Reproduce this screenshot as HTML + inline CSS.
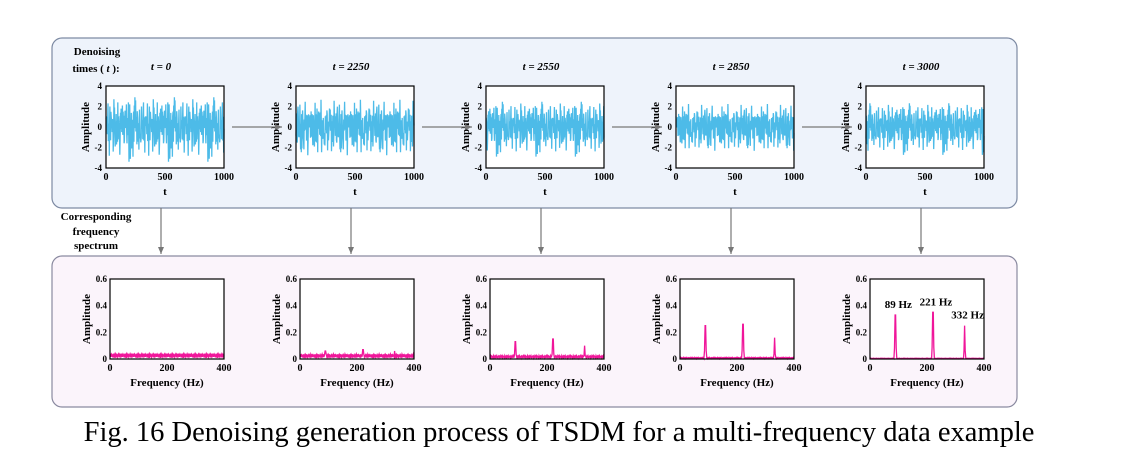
<!DOCTYPE html>
<html><head><meta charset="utf-8"><style>
html,body{margin:0;padding:0;background:#fff;width:1122px;height:469px;overflow:hidden}
svg{display:block;font-family:"Liberation Serif",serif}
</style></head><body>
<svg id="fig" width="1122" height="469" viewBox="0 0 1122 469" xmlns="http://www.w3.org/2000/svg">
<defs><marker id="ah" markerWidth="8" markerHeight="8" refX="7" refY="4" orient="auto" markerUnits="userSpaceOnUse"><path d="M0,1 L7,4 L0,7 z" fill="#777"/></marker></defs>
<rect x="52" y="38" width="965" height="170" rx="10" fill="#eef3fb" stroke="#7d8aa3" stroke-width="1.2"/>
<rect x="52" y="256" width="965" height="151" rx="10" fill="#fbf4fb" stroke="#8a8aa0" stroke-width="1.2"/>
<text x="97" y="55" font-size="11" font-weight="bold" text-anchor="middle">Denoising</text>
<text x="96" y="72" font-size="11" font-weight="bold" text-anchor="middle">times ( <tspan font-style="italic">t</tspan> ):</text>
<text x="96" y="220" font-size="11" font-weight="bold" text-anchor="middle">Corresponding</text>
<text x="96" y="235" font-size="11" font-weight="bold" text-anchor="middle">frequency</text>
<text x="96" y="249" font-size="11" font-weight="bold" text-anchor="middle">spectrum</text>
<g id="plots"></g>
<text x="559" y="441" font-size="28.5" text-anchor="middle">Fig. 16 Denoising generation process of TSDM for a multi-frequency data example</text>
</svg>
<script>
const stepLabels=["t = 0","t = 2250","t = 2550","t = 2850","t = 3000"];
const noiseScale=[1.0,0.95,0.85,0.8,0.8];
const noiseBase=[0.8,-1.2,2.1,-0.4,1.5,-2.6,0.3,1.9,-1.1,0.6,-3.4,1.2,2.4,-0.9,0.1,-1.8,2.9,-0.5,1.1,-2.2,0.7,1.8,-1.5,-0.2,2.2,-2.9,0.9,1.4,-0.7,-1.9,2.6,0.2,-1.3,1.7,-2.4,0.5,2.0,-0.8,-3.1,1.3,0.4,-1.6,2.3,-0.3,1.0,-2.0,1.6,-1.0,2.7,-2.5,0.0,1.5,-1.4,0.8,-2.7,2.1,-0.6,1.2,-1.7,2.5,-0.1,-2.3,1.9,0.6,-1.2,2.8,-2.1,0.3,1.4,-0.9,-2.8,1.7,0.9,-1.5,2.2,-0.4,-1.9,1.1,2.4,-2.6,0.5,-1.1,1.8,-0.7,2.0,-2.4,0.2,1.3,-1.6,2.6,-0.2,-2.0,1.0,0.7,-2.9,1.6,-0.5,2.3,-1.3,0.4,-2.2,1.9,-0.8,1.2,-1.7,2.7,-2.5,0.1,1.5,-1.0,2.1,-2.3,0.9,-0.3,1.7,-2.6,2.4,-1.4,0.6,1.1];
const specFloor=[0.04,0.035,0.025,0.012,0.006];
const peakFreqs=[89,221,332];
const peakHeights=[[0,0,0],[0.06,0.07,0.06],[0.13,0.15,0.1],[0.25,0.26,0.16],[0.33,0.35,0.25]];
const ripple=[0.6,1.0,0.4,0.9,0.7,0.3,1.0,0.5,0.8,0.2,0.9,0.6,1.0,0.4,0.7,0.9,0.3,0.8,0.5,1.0];
const peakLabels=["89 Hz","221 Hz","332 Hz"];
const g=document.getElementById('plots');
const NS='http://www.w3.org/2000/svg';
function el(tag,attrs,parent){const e=document.createElementNS(NS,tag);for(const k in attrs)e.setAttribute(k,attrs[k]);(parent||g).appendChild(e);return e;}
function txt(s,x,y,size,anchor,parent){const t=el('text',{x:x,y:y,'font-size':size,'font-weight':'bold','text-anchor':anchor||'middle'},parent);t.textContent=s;return t;}
const arrows=[];
for(let i=0;i<5;i++){
  const L=106+190*i,R=L+118,T=86,B=168;
  const tg=el('g',{});
  
  
  el('rect',{x:L,y:T,width:R-L,height:B-T,fill:'#fff'},tg);
  const xs=v=>L+(v/1000)*(R-L), ys=v=>B-(v+4)/8*(B-T);
  let d='';
  const n=noiseBase.length;
  for(let k=0;k<n*3;k++){const v=noiseBase[(k*7+i*13)%n]*noiseScale[i]*(k%2?0.55:1);d+=(k?'L':'M')+xs(k*1000/(n*3-1)).toFixed(1)+','+ys(v).toFixed(1);}
  const p=el('path',{d:d,fill:'none',stroke:'#4dbbe8','stroke-width':1.3},tg);
  
  el('rect',{x:L,y:T,width:R-L,height:B-T,fill:'none',stroke:'#000','stroke-width':1.2},tg);
  [-4,-2,0,2,4].forEach(v=>{txt(String(v),L-4,ys(v)+3,9,'end',tg);});
  [0,500,1000].forEach(v=>{txt(String(v),xs(v),B+12,10,'middle',tg);});
  txt('t',(L+R)/2,B+27,11,'middle',tg);
  const ya=txt('Amplitude',0,0,11,'middle',tg);ya.setAttribute('transform',`translate(${L-17},${(T+B)/2}) rotate(-90)`);
  const st=el('text',{x:(L+R)/2-4,y:70,'font-size':11,'font-weight':'bold','text-anchor':'middle','font-style':'italic'},tg);
  
  st.textContent=stepLabels[i];
  if(i<4)arrows.push([R+8,R+58,i]);
  const va=el('line',{x1:(L+R)/2-4,y1:208,x2:(L+R)/2-4,y2:254,stroke:'#777','stroke-width':1.2,'marker-end':'url(#ah)'});
  
  const fL=110+190*i,fR=fL+114,fT=279,fB=359;
  const fg=el('g',{});
  
  
  el('rect',{x:fL,y:fT,width:fR-fL,height:fB-fT,fill:'#fff'},fg);
  const fx=v=>fL+v/400*(fR-fL), fy=v=>fB-v/0.6*(fB-fT);
  let fd='';
  for(let f=0;f<=400;f+=2){let a=specFloor[i]*ripple[(f/2)%ripple.length];
    peakFreqs.forEach((pf,j)=>{const dd=Math.abs(f-pf);if(dd<=1)a=Math.max(a,peakHeights[i][j]);else if(dd<=3)a=Math.max(a,peakHeights[i][j]*0.25);});
    fd+=(f?'L':'M')+fx(f).toFixed(1)+','+fy(a).toFixed(1);}
  const fp=el('path',{d:fd,fill:'none',stroke:'#f0169a','stroke-width':1.3},fg);
  
  el('rect',{x:fL,y:fT,width:fR-fL,height:fB-fT,fill:'none',stroke:'#000','stroke-width':1.2},fg);
  [0,0.2,0.4,0.6].forEach(v=>{txt(String(v),fL-3,fy(v)+3,9,'end',fg);});
  [0,200,400].forEach(v=>{txt(String(v),fx(v),fB+12,10,'middle',fg);});
  txt('Frequency (Hz)',(fL+fR)/2,fB+27,11,'middle',fg);
  const fa=txt('Amplitude',0,0,11,'middle',fg);fa.setAttribute('transform',`translate(${fL-20},${(fT+fB)/2}) rotate(-90)`);
  if(i===4){peakFreqs.forEach((pf,j)=>{const lb=txt(peakLabels[j],fx(pf)+3,fy(peakHeights[i][j])-7,11,'middle',fg);});}
}
arrows.forEach(a=>{const ar=el('line',{x1:a[0],y1:127,x2:a[1],y2:127,stroke:'#777','stroke-width':1.2,'marker-end':'url(#ah)'});

});
</script>
</body></html>
